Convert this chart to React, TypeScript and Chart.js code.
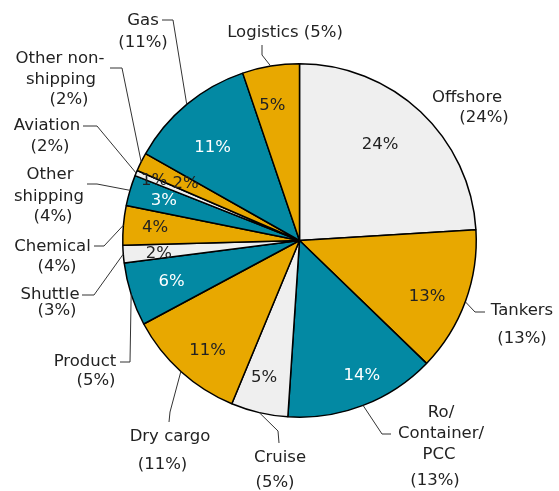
import React, { useEffect, useRef } from 'react';
import { Chart, registerables } from 'chart.js';

Chart.register(...registerables);

// ---- data ----
const categories = [
  'Offshore', 'Tankers', 'Ro/Container/PCC', 'Cruise', 'Dry cargo', 'Product', 'Shuttle',
  'Chemical', 'Other shipping', 'Aviation', 'Other non-shipping', 'Gas', 'Logistics',
];
const shares = [24, 13.2, 13.8, 5.2, 10.9, 5.8, 1.6, 3.6, 2.8, 0.5, 1.7, 11.6, 5.2];
const sliceLabels = ['24%', '13%', '14%', '5%', '11%', '6%', '2%', '4%', '3%', '1%', '2%', '11%', '5%'];
const outerLabelLines = [
  ['Offshore', '(24%)'],
  ['Tankers', '(13%)'],
  ['Ro/', 'Container/', 'PCC', '(13%)'],
  ['Cruise', '(5%)'],
  ['Dry cargo', '(11%)'],
  ['Product', '(5%)'],
  ['Shuttle', '(3%)'],
  ['Chemical', '(4%)'],
  ['Other', 'shipping', '(4%)'],
  ['Aviation', '(2%)'],
  ['Other non-', 'shipping', '(2%)'],
  ['Gas', '(11%)'],
  ['Logistics (5%)'],
];

// ---- styling / layout ----
const GRAY = '#efefef';
const ORANGE = '#e8a800';
const TEAL = '#0389a3';
const sliceColors = [GRAY, ORANGE, TEAL, GRAY, ORANGE, TEAL, GRAY, ORANGE, TEAL, GRAY, ORANGE, TEAL, ORANGE];
const insideTextColors = sliceColors.map((c) => (c === TEAL ? '#ffffff' : '#222222'));
const insideRadius = [0.71, 0.79, 0.84, 0.8, 0.81, 0.76, 0.8, 0.82, 0.8, 0.89, 0.72, 0.72, 0.78];
const insideAngleShift = [-3.3, 3.6, -3.7, 1.4, -2.2, 0, -1, 0, 0, 0, 0, -3.5, -2];

// leader line bends (canvas px) after the point on the rim
const leaderBends: (number[][] | null)[] = [
  null,
  [[475, 312], [485, 312]],
  [[382, 434], [391, 434]],
  [[278, 431], [279, 443]],
  [[170, 412], [169, 422]],
  [[130, 362], [120, 362]],
  [[94, 295], [82, 295]],
  [[104, 246], [94, 246]],
  [[97, 184], [87, 184]],
  [[97, 126], [83, 126]],
  [[122, 68], [110, 68]],
  [[173, 20], [162, 20]],
  [[262, 55], [262, 45]],
];
// text line centres (canvas px)
const labelCentres: number[][][] = [
  [[467, 98], [484, 118]],
  [[522, 311], [522, 339]],
  [[441, 413], [441, 434], [439, 455], [435, 481]],
  [[280, 458], [275, 483]],
  [[170, 437], [162.5, 465]],
  [[85, 362], [96, 381]],
  [[50, 295], [57, 311]],
  [[52.5, 247], [57, 267]],
  [[50, 175], [49, 197], [53, 217]],
  [[47, 126], [50, 147]],
  [[60, 59], [61, 80], [69, 100]],
  [[143, 21], [143, 43]],
  [[285, 33]],
];

const FONT = '16.5px "DejaVu Sans", Verdana, sans-serif';

const labelPlugin = {
  id: 'pieLabels',
  afterDatasetsDraw(chart: any) {
    const ctx = chart.ctx as CanvasRenderingContext2D;
    const meta = chart.getDatasetMeta(0);
    ctx.save();
    ctx.font = FONT;
    ctx.textAlign = 'center';
    ctx.textBaseline = 'middle';
    meta.data.forEach((arc: any, i: number) => {
      const { x, y, startAngle, endAngle, outerRadius } = arc.getProps(
        ['x', 'y', 'startAngle', 'endAngle', 'outerRadius'],
        true,
      );
      const mid = (startAngle + endAngle) / 2;
      // inside label
      const a = mid + (insideAngleShift[i] * Math.PI) / 180;
      const r = outerRadius * insideRadius[i];
      ctx.fillStyle = insideTextColors[i];
      ctx.fillText(sliceLabels[i], x + r * Math.cos(a), y + r * Math.sin(a));
      // leader line
      const bends = leaderBends[i];
      if (bends) {
        ctx.beginPath();
        ctx.strokeStyle = '#333333';
        ctx.lineWidth = 1;
        ctx.moveTo(x + outerRadius * Math.cos(mid), y + outerRadius * Math.sin(mid));
        bends.forEach((p) => ctx.lineTo(p[0], p[1]));
        ctx.stroke();
      }
      // outer label
      ctx.fillStyle = '#222222';
      outerLabelLines[i].forEach((line, j) => {
        const c = labelCentres[i][j];
        ctx.fillText(line, c[0], c[1]);
      });
    });
    ctx.restore();
  },
};

export default function App() {
  const canvasRef = useRef<HTMLCanvasElement | null>(null);

  useEffect(() => {
    document.body.style.margin = '0';
    const canvas = canvasRef.current;
    if (!canvas) return;
    const chart = new Chart(canvas, {
      type: 'pie',
      data: {
        labels: categories,
        datasets: [
          {
            data: shares,
            backgroundColor: sliceColors,
            borderColor: '#000000',
            borderWidth: 1.5,
          },
        ],
      },
      options: {
        responsive: false,
        animation: false,
        layout: { padding: { left: 122, right: 82, top: 63, bottom: 73 } },
        plugins: {
          legend: { display: false },
          tooltip: { enabled: false },
        },
      },
      plugins: [labelPlugin],
    });
    return () => chart.destroy();
  }, []);

  return (
    <div style={{ width: 559, height: 491, background: '#ffffff' }}>
      <canvas ref={canvasRef} width={559} height={491} style={{ display: 'block' }} />
    </div>
  );
}
